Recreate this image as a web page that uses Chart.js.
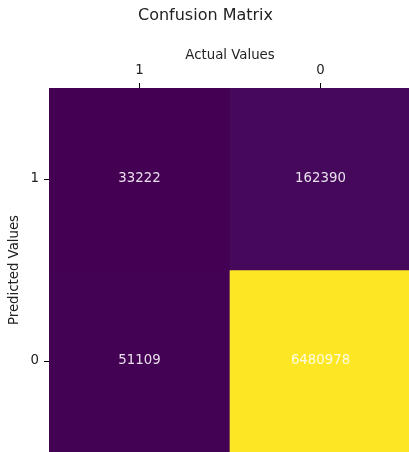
<!DOCTYPE html>
<html>
<head>
<meta charset="utf-8">
<script src="https://cdn.jsdelivr.net/npm/chart.js@4.4.1/dist/chart.umd.min.js"></script>
<style>
  html, body { margin: 0; padding: 0; background: #ffffff; overflow: hidden; }
  canvas { display: block; }
</style>
</head>
<body>
<canvas id="grafico" width="430" height="470" style="width:430px;height:470px"></canvas>
<script>
// columnas = valores reales, filas = valores predichos
const actualLabels = ['1', '0'];
const predictedLabels = ['1', '0'];
const fila1 = [33222, 162390];
const fila0 = [51109, 6480978];

const FUENTE = 'DejaVu Sans';

// escala viridis aproximada
const viridis = ['#440154', '#482475', '#414487', '#355f8d', '#2a788e', '#21918c',
                 '#22a884', '#44bf70', '#7ad151', '#bddf26', '#fde725'];
function hexRgb(h) {
    return [parseInt(h.slice(1, 3), 16), parseInt(h.slice(3, 5), 16), parseInt(h.slice(5, 7), 16)];
}
function colorViridis(t) {
    t = Math.max(0, Math.min(1, t)) * (viridis.length - 1);
    const i = Math.min(Math.floor(t), viridis.length - 2);
    const f = t - i;
    const a = hexRgb(viridis[i]), b = hexRgb(viridis[i + 1]);
    const c = a.map((v, k) => Math.round(v + (b[k] - v) * f));
    return 'rgb(' + c.join(',') + ')';
}

const filas = [fila1, fila0];
const todos = filas.flat();
const vmin = Math.min(...todos), vmax = Math.max(...todos);

// cada fila es un dataset de barras flotantes que ocupa su celda completa
const datasets = filas.map((fila, r) => ({
    label: 'Pred ' + predictedLabels[r],
    data: fila.map(() => [r - 0.5, r + 0.5]),
    conteos: fila,
    backgroundColor: fila.map(v => colorViridis((v - vmin) / (vmax - vmin))),
    borderWidth: 0,
    grouped: false,
    barPercentage: 1,
    categoryPercentage: 1
}));

// escribe el conteo en el centro de cada celda
const textoCeldas = {
    id: 'textoCeldas',
    afterDatasetsDraw(chart) {
        const ctx = chart.ctx;
        ctx.save();
        ctx.font = '13.3px "' + FUENTE + '"';
        ctx.fillStyle = 'rgba(255,255,255,0.88)';
        ctx.textAlign = 'center';
        ctx.textBaseline = 'middle';
        chart.data.datasets.forEach((ds, i) => {
            chart.getDatasetMeta(i).data.forEach((bar, j) => {
                ctx.fillText(String(ds.conteos[j]), bar.x, (bar.y + bar.base) / 2);
            });
        });
        ctx.restore();
    }
};

const grafico = document.getElementById('grafico').getContext('2d');
new Chart(grafico, {
    type: 'bar',
    data: { labels: actualLabels, datasets: datasets },
    options: {
        responsive: false,
        animation: false,
        devicePixelRatio: 1,
        layout: { padding: { left: 0, top: 0, right: 19, bottom: 18 } },
        scales: {
            x: {
                type: 'category',
                position: 'top',
                offset: true,
                grid: { offset: false, drawOnChartArea: false, drawTicks: true, tickLength: 5, color: '#000000' },
                border: { display: true, color: '#000000', width: 1 },
                ticks: { color: '#222222', padding: 4, font: { family: FUENTE, size: 13.3 } },
                title: {
                    display: true,
                    text: 'Actual Values',
                    color: '#222222',
                    font: { family: FUENTE, size: 13.3 },
                    padding: { top: 22, bottom: 0 }
                },
                afterFit(scale) { scale.height = 62.4; }
            },
            y: {
                type: 'linear',
                reverse: true,
                min: -0.5,
                max: 1.5,
                afterBuildTicks(scale) {
                    scale.ticks = predictedLabels.map((_, i) => ({ value: i }));
                },
                grid: { drawOnChartArea: false, drawTicks: true, tickLength: 5, color: '#000000' },
                border: { display: true, color: '#000000', width: 1 },
                ticks: {
                    color: '#222222',
                    padding: 5,
                    font: { family: FUENTE, size: 13.3 },
                    callback: v => predictedLabels[v]
                },
                title: {
                    display: true,
                    text: 'Predicted Values',
                    color: '#222222',
                    font: { family: FUENTE, size: 13.3 },
                    padding: { top: 7, bottom: 0 }
                },
                afterFit(scale) { scale.width = 49; }
            }
        },
        plugins: {
            legend: { display: false },
            tooltip: { enabled: false },
            title: {
                display: true,
                text: 'Confusion Matrix',
                color: '#222222',
                font: { family: FUENTE, size: 16, weight: 'normal' },
                padding: { top: 6.4, bottom: 0 }
            }
        }
    },
    plugins: [textoCeldas]
});
</script>
</body>
</html>
